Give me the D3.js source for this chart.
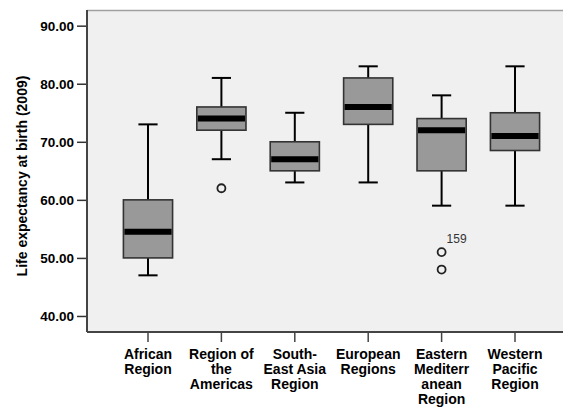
<!DOCTYPE html>
<html><head><meta charset="utf-8">
<script src="https://cdn.jsdelivr.net/npm/d3@7"></script>
<style>body{margin:0;background:#fff}svg{display:block}text{font-family:"Liberation Sans",Arial,sans-serif}</style>
</head><body><svg id="c" width="563" height="408"></svg>
<script>
const categories = [["African","Region"],["Region of","the","Americas"],["South-","East Asia","Region"],["European","Regions"],["Eastern","Mediterr","anean","Region"],["Western","Pacific","Region"]];
const whiskerLow  = [47, 67, 63, 63, 59, 59];
const q1          = [50, 72, 65, 73, 65, 68.5];
const median      = [54.5, 74, 67, 76, 72, 71];
const q3          = [60, 76, 70, 81, 74, 75];
const whiskerHigh = [73, 81, 75, 83, 78, 83];
const outliers    = [[], [62], [], [], [51, 48], []];
const outlierLabels = [[], [""], [], [], ["159", ""], []];
const yTicks = [40, 50, 60, 70, 80, 90];
const yTitle = "Life expectancy at birth (2009)";

const svg = d3.select("#c");
const L = 87, R = 576, T = 10, B = 332;
const keys = categories.map((d,i)=>i);
const x = d3.scaleBand().domain(keys).range([L, R]).paddingInner(0).paddingOuter(0.331);
const y = d3.scaleLinear().domain([37.24, 92.7]).range([B, T]);

svg.append("rect").attr("x",L).attr("y",T).attr("width",R-L).attr("height",B-T).attr("fill","#f0f0f0");
svg.append("line").attr("x1",L).attr("x2",R).attr("y1",T+0.5).attr("y2",T+0.5).attr("stroke","#a0a0a0").attr("stroke-width",1.5);

const bw = x.bandwidth()*0.67, cw = bw*0.39;
keys.forEach(i=>{
  const cx = x(i) + x.bandwidth()/2;
  const g = svg.append("g");
  g.append("line").attr("x1",cx).attr("x2",cx).attr("y1",y(whiskerHigh[i])).attr("y2",y(q3[i])).attr("stroke","#000").attr("stroke-width",2);
  g.append("line").attr("x1",cx).attr("x2",cx).attr("y1",y(q1[i])).attr("y2",y(whiskerLow[i])).attr("stroke","#000").attr("stroke-width",2);
  [whiskerHigh[i], whiskerLow[i]].forEach(v=>g.append("line").attr("x1",cx-cw/2).attr("x2",cx+cw/2).attr("y1",y(v)).attr("y2",y(v)).attr("stroke","#000").attr("stroke-width",2));
  g.append("rect").attr("x",cx-bw/2).attr("y",y(q3[i])).attr("width",bw).attr("height",y(q1[i])-y(q3[i])).attr("fill","#999999").attr("stroke","#333").attr("stroke-width",1.6);
  g.append("line").attr("x1",cx-bw/2+1).attr("x2",cx+bw/2-1).attr("y1",y(median[i])).attr("y2",y(median[i])).attr("stroke","#000").attr("stroke-width",6);
  outliers[i].forEach((v,j)=>{
    g.append("circle").attr("cx",cx).attr("cy",y(v)).attr("r",4).attr("fill","#f0f0f0").attr("stroke","#222").attr("stroke-width",1.8);
    const lb = outlierLabels[i][j];
    if (lb) g.append("text").attr("x",cx+5).attr("y",y(v)-9).attr("font-size",12).attr("fill","#333").text(lb);
  });
});

// y axis
const ya = svg.append("g").attr("transform",`translate(${L},0)`).call(d3.axisLeft(y).tickValues(yTicks).tickSize(10).tickPadding(3).tickFormat(d3.format(".2f")));
ya.select(".domain").remove();
ya.selectAll(".tick line").attr("stroke","#333").attr("stroke-width",1.5);
ya.selectAll(".tick text").attr("font-size",13.5).attr("font-weight","bold").attr("fill","#000").attr("font-family","Liberation Sans, Arial, sans-serif");
svg.append("line").attr("x1",L).attr("x2",L).attr("y1",T).attr("y2",B).attr("stroke","#444").attr("stroke-width",2);

// x axis
const xa = svg.append("g").attr("transform",`translate(0,${B})`).call(d3.axisBottom(x).tickSize(10).tickFormat(""));
xa.select(".domain").remove();
xa.selectAll(".tick line").attr("stroke","#444").attr("stroke-width",1.5);
svg.append("line").attr("x1",L).attr("x2",R).attr("y1",B).attr("y2",B).attr("stroke","#444").attr("stroke-width",2);
keys.forEach(i=>{
  const t = svg.append("text").attr("x",x(i)+x.bandwidth()/2).attr("y",359).attr("text-anchor","middle").attr("font-size",14).attr("font-weight","bold").attr("fill","#000");
  categories[i].forEach((s,k)=>t.append("tspan").attr("x",x(i)+x.bandwidth()/2).attr("dy",k?15:0).text(s));
});

svg.append("text").attr("transform",`translate(27,176) rotate(-90)`).attr("text-anchor","middle").attr("font-size",14).attr("font-weight","bold").attr("fill","#000").text(yTitle);
</script></body></html>
